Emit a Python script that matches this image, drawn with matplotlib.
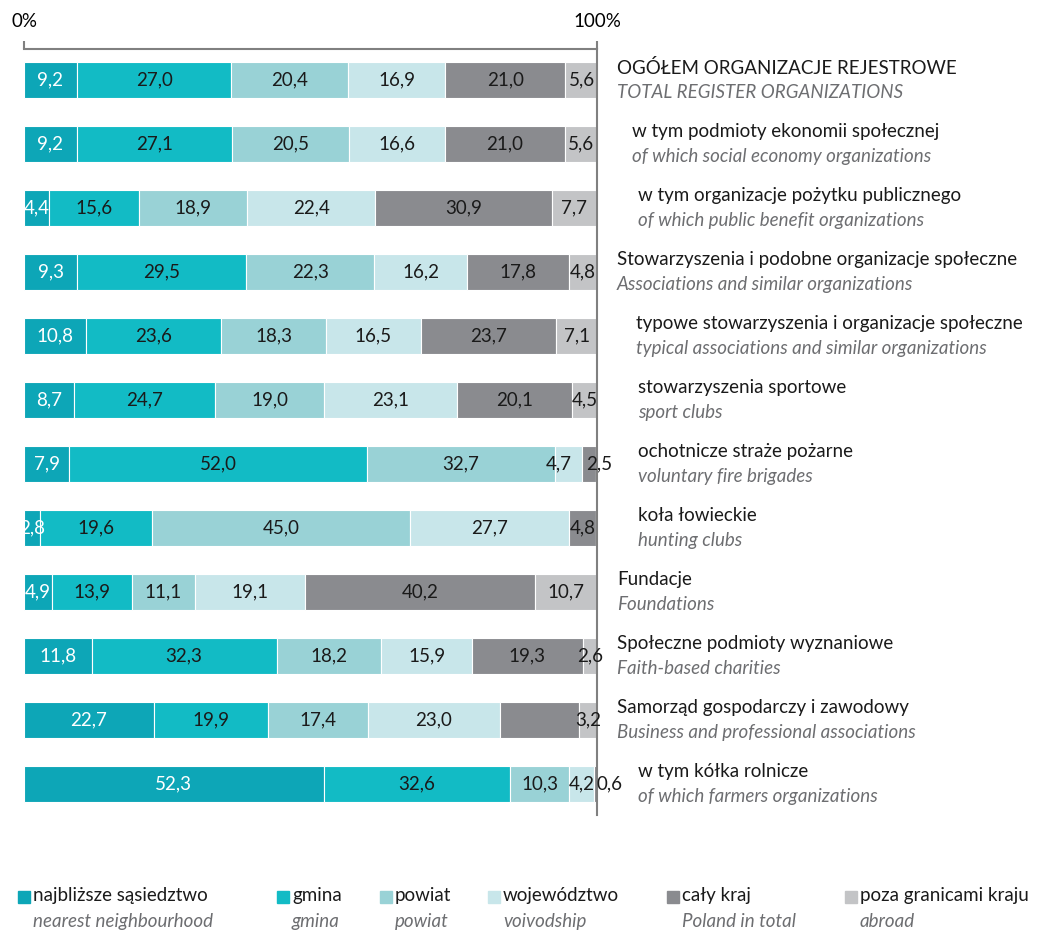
import numpy as np
import matplotlib.pyplot as plt
from matplotlib.patches import Rectangle
from matplotlib.transforms import blended_transform_factory

plt.rcParams['font.family'] = ['Lato', 'DejaVu Sans']

# data
rows_pl = ["OGÓŁEM ORGANIZACJE REJESTROWE",
           "w tym podmioty ekonomii społecznej",
           "w tym organizacje pożytku publicznego",
           "Stowarzyszenia i podobne organizacje społeczne",
           "typowe stowarzyszenia i organizacje społeczne",
           "stowarzyszenia sportowe",
           "ochotnicze straże pożarne",
           "koła łowieckie",
           "Fundacje",
           "Społeczne podmioty wyznaniowe",
           "Samorząd gospodarczy i zawodowy",
           "w tym kółka rolnicze"]
rows_en = ["TOTAL REGISTER ORGANIZATIONS",
           "of which social economy organizations",
           "of which public benefit organizations",
           "Associations and similar organizations",
           "typical associations and similar organizations",
           "sport clubs",
           "voluntary fire brigades",
           "hunting clubs",
           "Foundations",
           "Faith-based charities",
           "Business and professional associations",
           "of which farmers organizations"]

cats_pl = ["najbliższe sąsiedztwo", "gmina", "powiat", "województwo", "cały kraj", "poza granicami kraju"]
cats_en = ["nearest neighbourhood", "gmina", "powiat", "voivodship", "Poland in total", "abroad"]

nearest = [9.2, 9.2, 4.4, 9.3, 10.8, 8.7, 7.9, 2.8, 4.9, 11.8, 22.7, 52.3]
gmina = [27.0, 27.1, 15.6, 29.5, 23.6, 24.7, 52.0, 19.6, 13.9, 32.3, 19.9, 32.6]
powiat = [20.4, 20.5, 18.9, 22.3, 18.3, 19.0, 32.7, 45.0, 11.1, 18.2, 17.4, 10.3]
voiv = [16.9, 16.6, 22.4, 16.2, 16.5, 23.1, 4.7, 27.7, 19.1, 15.9, 23.0, 4.2]
country = [21.0, 21.0, 30.9, 17.8, 23.7, 20.1, 2.5, 4.8, 40.2, 19.3, 13.8, 0.6]
abroad = [5.6, 5.6, 7.7, 4.8, 7.1, 4.5, 0.0, 0.0, 10.7, 2.6, 3.2, 0.0]

# row 11 "cały kraj" is not labelled in the original
unlabeled = {(10, 4)}
# small segments: labels pushed sideways (pixels) so they don't collide
nudge = {(6, 3): -9, (6, 4): 10, (11, 3): 0, (11, 4): 14}

colors = ["#0da6b7", "#12bbc5", "#99d2d6", "#c8e6ea", "#8a8b8f", "#c3c4c6"]
label_x = [617, 632, 638, 617, 636, 638, 638, 638, 617, 617, 617, 638]

W, H = 1053, 930
fig = plt.figure(figsize=(W / 100, H / 100), dpi=100)
ax_top, ax_bot = 49, 815
ax = fig.add_axes([24 / W, 1 - ax_bot / H, (597 - 24) / W, (ax_bot - ax_top) / H])

series = np.array([nearest, gmina, powiat, voiv, country, abroad])
y = np.arange(len(rows_pl))
left = np.zeros(len(y))
for k in range(len(series)):
    vals = series[k]
    ax.barh(y, vals, left=left, height=0.5625, color=colors[k],
            edgecolor='white', linewidth=0.8)
    for i, v in enumerate(vals):
        if v <= 0 or (i, k) in unlabeled:
            continue
        txt = f"{v:.1f}".replace('.', ',')
        ax.annotate(txt, (left[i] + v / 2, y[i]),
                    xytext=(nudge.get((i, k), 0) * 0.72, 0), textcoords='offset points',
                    ha='center', va='center', fontsize=13.5,
                    color='white' if k == 0 else '#1a1a1a',
                    annotation_clip=False, clip_on=(k == 0))
    left += vals

ax.set_xlim(0, 100)
ax.set_ylim((ax_bot - 80) / 64, (ax_top - 80) / 64)
for s in ['left', 'bottom']:
    ax.spines[s].set_visible(False)
for s in ['top', 'right']:
    ax.spines[s].set_color('#808080')
    ax.spines[s].set_linewidth(1.5)
ax.set_yticks([])
ax.xaxis.tick_top()
ax.set_xticks([0, 100])
ax.set_xticklabels(["0%", "100%"], fontsize=13.5)
ax.tick_params(axis='x', length=6, width=1.5, color='#808080', pad=8)

tr = blended_transform_factory(fig.transFigure, ax.transData)
for i in range(len(rows_pl)):
    ax.text(label_x[i] / W, y[i] - 0.19, rows_pl[i], transform=tr, fontsize=13.5,
            color='#1a1a1a', va='center', ha='left', clip_on=False)
    ax.text(label_x[i] / W, y[i] + 0.2, rows_en[i], transform=tr, fontsize=13.5,
            color='#6d6e71', style='italic', va='center', ha='left', clip_on=False)

# legend
leg_sq = [18, 277, 380, 488, 667, 845]
for k in range(len(cats_pl)):
    x0 = leg_sq[k]
    fig.patches.append(Rectangle((x0 / W, 1 - 903 / H), 12 / W, 12 / H,
                                 transform=fig.transFigure, color=colors[k]))
    fig.text((x0 + 15) / W, 1 - 895 / H, cats_pl[k], fontsize=13.5,
             color='#1a1a1a', va='center', ha='left')
    fig.text((x0 + 15) / W, 1 - 921 / H, cats_en[k], fontsize=13.5,
             color='#6d6e71', style='italic', va='center', ha='left')

fig.savefig("out.png", dpi=100)
